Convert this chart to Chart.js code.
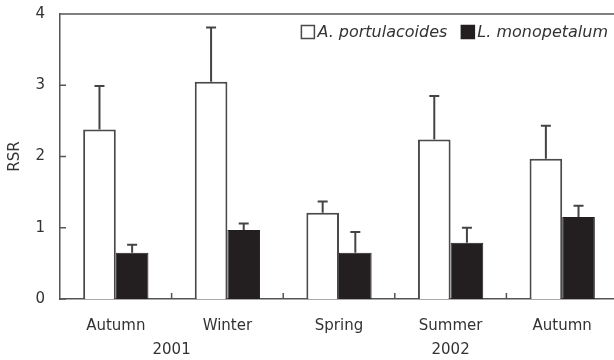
<!DOCTYPE html>
<html>
<head>
<meta charset="utf-8">
<script src="https://cdn.jsdelivr.net/npm/chart.js@4.4.1/dist/chart.umd.min.js"></script>
<style>
  html, body { margin: 0; padding: 0; background: #fff; overflow: hidden; }
  #wrap { width: 620px; height: 360px; position: relative; }
</style>
</head>
<body>
<div id="wrap"><canvas id="c" width="620" height="360"></canvas></div>
<script>
// ---- data ----
const categories = ['Autumn', 'Winter', 'Spring', 'Summer', 'Autumn'];
const seriesNames = ['A. portulacoides', 'L. monopetalum'];
const aPortulacoides = [2.38, 3.05, 1.21, 2.24, 1.97];
const aPortulacoidesErr = [0.61, 0.76, 0.16, 0.61, 0.46];
const lMonopetalum = [0.65, 0.97, 0.65, 0.79, 1.15];
const lMonopetalumErr = [0.11, 0.09, 0.29, 0.21, 0.16];
const yearLabels = ['2001', '2002'];
const yearAt = [0.5, 3];           // position in category units (0 = first category centre)
const yTicks = [0, 1, 2, 3, 4];
const yTitle = 'RSR';

// year axis: half-category slots from the left edge of the first category to the right edge of the last
const halfSlots = Array.from({ length: categories.length * 2 + 1 }, () => '');
yearAt.forEach((v, k) => { halfSlots[Math.round((v + 0.5) * 2)] = yearLabels[k]; });

const FONT = '"DejaVu Sans", sans-serif';
const AXIS = '#555';
const TEXT = '#333';

const errorBars = {
  id: 'errorBars',
  afterDatasetsDraw(chart) {
    const ctx = chart.ctx, y = chart.scales.y;
    chart.data.datasets.forEach((ds, di) => {
      const meta = chart.getDatasetMeta(di);
      meta.data.forEach((bar, i) => {
        const top = y.getPixelForValue(ds.data[i] + ds.err[i]);
        ctx.save();
        ctx.strokeStyle = '#444';
        ctx.lineWidth = 2;
        ctx.beginPath();
        ctx.moveTo(bar.x, bar.y);
        ctx.lineTo(bar.x, top);
        ctx.moveTo(bar.x - 5, top);
        ctx.lineTo(bar.x + 5, top);
        ctx.stroke();
        ctx.restore();
      });
    });
  }
};

const frame = {
  id: 'frame',
  afterDraw(chart) {
    const ctx = chart.ctx, a = chart.chartArea, x = chart.scales.x, y = chart.scales.y;
    ctx.save();
    ctx.strokeStyle = AXIS;
    ctx.lineWidth = 1.5;
    ctx.beginPath();
    ctx.moveTo(a.left, a.top); ctx.lineTo(a.right, a.top); ctx.lineTo(a.right, a.bottom);
    y.ticks.forEach(t => {
      const p = y.getPixelForValue(t.value);
      ctx.moveTo(a.left, p); ctx.lineTo(a.left + 6, p);
    });
    for (let i = 1; i < categories.length; i++) {
      const p = (x.getPixelForValue(i - 1) + x.getPixelForValue(i)) / 2;
      ctx.moveTo(p, a.bottom); ctx.lineTo(p, a.bottom - 6);
    }
    ctx.stroke();

    // legend inside plot, top right
    ctx.font = 'italic 16px ' + FONT;
    ctx.textBaseline = 'middle';
    ctx.textAlign = 'left';
    const box = 13, gap = 3, itemGap = 14;
    const widths = chart.data.datasets.map(ds => box + gap + ctx.measureText(ds.label).width);
    let xpos = a.right - 10 - widths.reduce((s, w) => s + w, 0) - itemGap * (widths.length - 1);
    const cy = a.top + 18;
    chart.data.datasets.forEach((ds, i) => {
      ctx.fillStyle = ds.backgroundColor;
      ctx.fillRect(xpos, cy - box / 2, box, box);
      ctx.strokeStyle = ds.borderColor;
      ctx.lineWidth = 1.5;
      ctx.strokeRect(xpos, cy - box / 2, box, box);
      ctx.fillStyle = TEXT;
      ctx.fillText(ds.label, xpos + box + gap, cy + 1);
      xpos += widths[i] + itemGap;
    });
    ctx.restore();
  }
};

new Chart(document.getElementById('c'), {
  type: 'bar',
  data: {
    labels: categories,
    datasets: [
      { label: seriesNames[0], data: aPortulacoides, err: aPortulacoidesErr,
        backgroundColor: '#ffffff', borderColor: '#4a4a4a', borderWidth: 2,
        categoryPercentage: 0.585, barPercentage: 1.0 },
      { label: seriesNames[1], data: lMonopetalum, err: lMonopetalumErr,
        backgroundColor: '#231f20', borderColor: '#231f20', borderWidth: 1,
        categoryPercentage: 0.585, barPercentage: 1.0 }
    ]
  },
  options: {
    responsive: false,
    animation: false,
    devicePixelRatio: 1,
    layout: { padding: { top: 14, right: 2, bottom: 0, left: 0 } },
    plugins: { legend: { display: false }, tooltip: { enabled: false } },
    scales: {
      x: {
        afterFit: s => { s.height = 36; s.paddingLeft = 0; s.paddingRight = 0; },
        grid: { display: false, drawTicks: false },
        border: { display: true, color: AXIS, width: 1.5 },
        ticks: { color: TEXT, font: { family: FONT, size: 15 }, padding: 18, maxRotation: 0, autoSkip: false }
      },
      x2: {
        type: 'category', position: 'bottom', labels: halfSlots, offset: false,
        afterFit: s => { s.height = 25; s.paddingLeft = 0; s.paddingRight = 0; },
        grid: { display: false, drawTicks: false },
        border: { display: false },
        ticks: { color: TEXT, font: { family: FONT, size: 15 }, padding: 6, autoSkip: false, maxRotation: 0 }
      },
      y: {
        min: 0, max: 4,
        afterBuildTicks: s => { s.ticks = yTicks.map(v => ({ value: v })); },
        afterFit: s => { s.width = 60; s.paddingTop = 0; s.paddingBottom = 0; },
        grid: { display: false, drawTicks: false },
        border: { display: true, color: AXIS, width: 1.5 },
        ticks: { color: TEXT, font: { family: FONT, size: 15 }, padding: 15 },
        title: { display: true, text: yTitle, color: TEXT, font: { family: FONT, size: 15 }, padding: { top: 6, bottom: 0 } }
      }
    }
  },
  plugins: [errorBars, frame]
});
</script>
</body>
</html>
